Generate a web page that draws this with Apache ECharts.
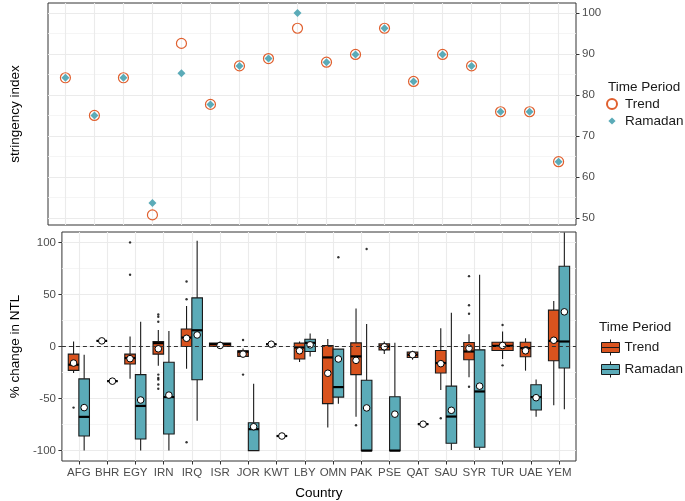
<!DOCTYPE html>
<html><head><meta charset="utf-8">
<script src="https://cdn.jsdelivr.net/npm/echarts@6/dist/echarts.min.js"></script>
<style>html,body{margin:0;padding:0;background:#fff}#c{width:685px;height:501px}</style>
</head><body><div id="c"></div>
<script>
// ---------- DATA ----------
const countries = ['AFG','BHR','EGY','IRN','IRQ','ISR','JOR','KWT','LBY','OMN','PAK','PSE','QAT','SAU','SYR','TUR','UAE','YEM'];

// Top panel: stringency index
const stringencyTrend   = [84.2, 75.0, 84.2, 50.7, 92.6, 77.7, 87.1, 88.9, 96.3, 88.0, 89.9, 96.3, 83.3, 89.9, 87.1, 75.9, 75.9, 63.7];
const stringencyRamadan = [84.2, 75.0, 84.2, 53.6, 85.3, 77.7, 87.1, 88.9, 100.0, 88.0, 89.9, 96.3, 83.3, 89.9, 87.1, 75.9, 75.9, 63.7];
const topTicks = [50, 60, 70, 80, 90, 100];
const topMinorTicks = [55, 65, 75, 85, 95];

// Bottom panel: % change in NTL, box stats [lowWhisker, q1, median, q3, highWhisker]
const ntlTrendBox = [
  [-25.4, -22.9, -17.5, -7.3, 4.8],
  [5.4, 5.4, 5.4, 5.4, 5.4],
  [-31.1, -16.8, -11.1, -7.3, 9.5],
  [-18.4, -7.3, 3.2, 4.8, 15.9],
  [-21.3, 0.0, 8.6, 16.8, 39.0],
  [-2.2, 0.0, 2.2, 3.2, 4.8],
  [-10.0, -9.5, -5.0, -4.1, -2.0],
  [2.2, 2.2, 2.2, 2.2, 2.2],
  [-14.9, -12.0, -1.0, 3.2, 4.8],
  [-77.8, -54.9, -10.5, 1.0, 7.3],
  [-67.6, -27.0, -9.5, 3.5, 36.5],
  [-7.3, -3.2, 0.0, 2.5, 4.8],
  [-12.7, -10.5, -7.9, -5.4, -4.1],
  [-41.9, -25.4, -15.9, -3.8, 17.5],
  [-29.5, -12.7, -4.8, 3.8, 11.7],
  [-12.0, -3.8, 0.6, 4.1, 14.3],
  [-23.2, -9.8, -1.6, 4.1, 7.9],
  [-56.5, -13.7, 5.4, 34.9, 43.8]
];
const ntlTrendMean = [-15.9, 5.4, -11.7, -2.2, 7.9, 1.0, -7.3, 2.2, -4.1, -25.7, -13.3, -0.3, -7.9, -16.5, -1.6, 1.0, -4.1, 6.0];
const ntlTrendOutliers = [
  ['AFG', -58.7], ['EGY', 68.9], ['EGY', 100.0],
  ['IRN', 30.8], ['IRN', 28.6], ['IRN', 23.8], ['IRN', -27.0], ['IRN', -30.2], ['IRN', -31.7], ['IRN', -36.5], ['IRN', -40.6],
  ['IRQ', 62.5], ['IRQ', 45.4], ['IRQ', -92.0],
  ['JOR', 6.3], ['JOR', -27.0], ['PAK', -75.6], ['SAU', -68.9],
  ['SYR', 67.6], ['SYR', 39.7], ['SYR', 31.4], ['SYR', -38.7],
  ['TUR', 20.6], ['TUR', -18.1]
];

const ntlRamadanBox = [
  [-100.0, -86.0, -67.6, -31.1, -7.9],
  [-33.3, -33.3, -33.3, -33.3, -33.3],
  [-100.0, -88.9, -57.1, -27.0, 23.8],
  [-100.0, -84.1, -48.6, -15.2, 14.9],
  [-71.4, -32.0, 15.6, 46.7, 101.6],
  null,
  [-100.0, -100.0, -79.4, -73.3, -35.9],
  [-86.0, -86.0, -86.0, -86.0, -86.0],
  [-9.5, -4.8, 3.5, 7.0, 12.4],
  [-54.9, -48.6, -39.0, -2.5, -2.5],
  [-100.0, -100.0, -100.0, -32.4, 21.6],
  [-100.0, -100.0, -100.0, -48.3, 3.5],
  [-74.6, -74.6, -74.6, -74.6, -74.6],
  [-99.4, -93.0, -67.3, -38.1, 32.4],
  [-99.4, -96.8, -43.2, -3.2, 68.9],
  null,
  [-67.6, -61.0, -48.6, -36.8, -31.7],
  [-60.3, -20.6, 4.8, 77.1, 109.5]
];
const ntlRamadanMean = [-58.7, -33.3, -51.4, -46.7, 11.1, null, -77.1, -86.0, 1.6, -12.0, -59.0, -65.0, -74.6, -61.3, -38.1, null, -49.2, 33.3];
const ntlRamadanOutliers = [['OMN', 85.7], ['PAK', 93.7]];
const bottomTicks = [-100, -50, 0, 50, 100];
const bottomMinorTicks = [-75, -25, 25, 75];

// ---------- BUILD ----------
const TREND = '#D9531E', RAMADAN = '#5BABB8';
const idx = countries.map((c, i) => i);
const hasBoth = i => ntlTrendBox[i] && ntlRamadanBox[i];
const slotOf = (i, g) => hasBoth(i) ? (g === 'T' ? -1 : 1) : 0;

function boxData(boxes, means, g) {
  const out = [];
  boxes.forEach((b, i) => { if (b) out.push([i, b[0], b[1], b[2], b[3], b[4], means[i], slotOf(i, g)]); });
  return out;
}
function outlierData(list, g) {
  return list.map(([c, v]) => { const i = countries.indexOf(c); return [i + slotOf(i, g) * 0.1875, v]; });
}

function renderBox(params, api) {
  const i = api.value(0), slot = api.value(7);
  const cx = i + slot * 0.1875;
  const hw = slot === 0 ? 0.375 : 0.1875;
  const xl = api.coord([cx - hw, 0])[0], xr = api.coord([cx + hw, 0])[0], xc = api.coord([cx, 0])[0];
  const y = k => api.coord([cx, api.value(k)])[1];
  const yLow = y(1), yQ1 = y(2), yMed = y(3), yQ3 = y(4), yHigh = y(5), yMean = y(6);
  const stroke = '#1A1A1A';
  const color = api.visual('color');
  return { type: 'group', children: [
    { type: 'line', shape: { x1: xc, y1: yHigh, x2: xc, y2: yQ3 }, style: { stroke, lineWidth: 1.1 } },
    { type: 'line', shape: { x1: xc, y1: yQ1, x2: xc, y2: yLow }, style: { stroke, lineWidth: 1.1 } },
    { type: 'rect', shape: { x: xl, y: yQ3, width: xr - xl, height: yQ1 - yQ3 }, style: { fill: color, stroke, lineWidth: 1.1 } },
    { type: 'line', shape: { x1: xl, y1: yMed, x2: xr, y2: yMed }, style: { stroke: '#000', lineWidth: 2.2 } },
    { type: 'circle', shape: { cx: xc, cy: yMean, r: 3.3 }, style: { fill: '#fff', stroke: '#000', lineWidth: 1 } }
  ]};
}

const FONT = '"Liberation Sans", Arial, sans-serif';
const gridLine = { show: true, lineStyle: { color: '#EBEBEB', width: 1.1 } };
const minorLine = { show: true, lineStyle: { color: '#F3F3F3', width: 0.8 } };
const tickStyle = { show: true, length: 3.5, lineStyle: { color: '#333', width: 1 } };
const noLine = { show: false, onZero: false };
const boxIcon = 'path://M0,3 L18,3 L18,13 L0,13 Z M0,8 L18,8 M9,0 L9,3 M9,13 L9,16';
const diamondIcon = 'path://M0,0 M5,1.4 L8.6,5 L5,8.6 L1.4,5 Z M10,10';

const option = {
  animation: false,
  backgroundColor: '#fff',
  textStyle: { fontFamily: FONT },
  title: [
    { text: 'Time Period', left: 608, top: 80, padding: 0, textStyle: { fontSize: 13.5, fontWeight: 'normal', color: '#1A1A1A', fontFamily: FONT } },
    { text: 'Time Period', left: 599, top: 320, padding: 0, textStyle: { fontSize: 13.5, fontWeight: 'normal', color: '#1A1A1A', fontFamily: FONT } }
  ],
  legend: [
    { data: [{ name: 'Trend', icon: 'circle' }, { name: 'Ramadan', icon: diamondIcon }], orient: 'vertical', left: 606, top: 97, padding: 0,
      itemWidth: 16, itemHeight: 10, itemGap: 3, selectedMode: false,
      textStyle: { fontSize: 13.5, color: '#1A1A1A', fontFamily: FONT } },
    { data: [{ name: 'Trend NTL', icon: boxIcon }, { name: 'Ramadan NTL', icon: boxIcon }],
      formatter: n => n.replace(' NTL', ''), orient: 'vertical', left: 601, top: 339, padding: 0,
      itemWidth: 18, itemHeight: 16, itemGap: 5, selectedMode: false,
      itemStyle: { borderColor: '#1A1A1A', borderWidth: 1 },
      textStyle: { fontSize: 13.5, color: '#1A1A1A', fontFamily: FONT } }
  ],
  grid: [
    { left: 44, right: 109, top: 3, height: 222, show: true, borderColor: '#333', borderWidth: 1, backgroundColor: '#fff' },
    { left: 44, right: 109, top: 232, height: 229, show: true, borderColor: '#333', borderWidth: 1, backgroundColor: '#fff' }
  ],
  xAxis: [
    { gridIndex: 0, type: 'value', min: -0.6, max: 17.6, axisLine: noLine,
      axisTick: { show: false, customValues: idx }, axisLabel: { show: false, customValues: idx }, splitLine: gridLine },
    { gridIndex: 1, type: 'value', min: -0.6, max: 17.6, axisLine: noLine,
      axisTick: Object.assign({ customValues: idx }, tickStyle),
      axisLabel: { customValues: idx, formatter: v => countries[Math.round(v)], color: '#4D4D4D', fontSize: 11.5, margin: 6, fontFamily: FONT },
      splitLine: gridLine,
      name: 'Country', nameLocation: 'middle', nameGap: 25, nameTextStyle: { color: '#000', fontSize: 13.5, fontFamily: FONT } }
  ],
  yAxis: [
    { gridIndex: 0, type: 'value', position: 'right', min: 48.235, max: 102.465, axisLine: noLine,
      axisTick: Object.assign({ customValues: topTicks }, tickStyle),
      axisLabel: { customValues: topTicks, color: '#4D4D4D', fontSize: 11.5, margin: 6, fontFamily: FONT },
      splitLine: gridLine },
    { gridIndex: 0, type: 'value', position: 'left', min: 48.235, max: 102.465, axisLine: noLine,
      axisTick: { show: false, customValues: topMinorTicks }, axisLabel: { show: false, customValues: topMinorTicks },
      splitLine: minorLine,
      name: 'stringency index', nameLocation: 'middle', nameGap: 26, nameTextStyle: { color: '#000', fontSize: 13.5, fontFamily: FONT } },
    { gridIndex: 1, type: 'value', position: 'left', min: -110, max: 110, axisLine: noLine,
      axisTick: Object.assign({ customValues: bottomTicks }, tickStyle),
      axisLabel: { customValues: bottomTicks, color: '#4D4D4D', fontSize: 11.5, margin: 6, fontFamily: FONT },
      splitLine: gridLine,
      name: '% change in NTL', nameLocation: 'middle', nameGap: 26, nameTextStyle: { color: '#000', fontSize: 13.5, fontFamily: FONT } },
    { gridIndex: 1, type: 'value', position: 'right', min: -110, max: 110, axisLine: noLine,
      axisTick: { show: false, customValues: bottomMinorTicks }, axisLabel: { show: false, customValues: bottomMinorTicks },
      splitLine: minorLine }
  ],
  series: [
    { name: 'Trend', type: 'scatter', xAxisIndex: 0, yAxisIndex: 0, z: 3,
      data: stringencyTrend.map((v, i) => [i, v]), symbol: 'circle', symbolSize: 10,
      itemStyle: { color: 'rgba(255,255,255,0)', borderColor: '#E0602F', borderWidth: 1.2, opacity: 1 } },
    { name: 'Ramadan', type: 'scatter', xAxisIndex: 0, yAxisIndex: 0, z: 4,
      data: stringencyRamadan.map((v, i) => [i, v]), symbol: 'diamond', symbolSize: 8,
      itemStyle: { color: '#5BABB8', opacity: 1 } },
    { name: 'zero', type: 'line', xAxisIndex: 1, yAxisIndex: 2, data: [], z: 2,
      markLine: { silent: true, symbol: 'none', label: { show: false },
        lineStyle: { type: [4, 3], color: '#333', width: 1 }, data: [{ yAxis: 0 }] } },
    { name: 'Trend NTL', type: 'custom', xAxisIndex: 1, yAxisIndex: 2, z: 3, clip: true,
      itemStyle: { color: TREND }, encode: { x: 0, y: [1, 2, 3, 4, 5] },
      data: boxData(ntlTrendBox, ntlTrendMean, 'T'), renderItem: renderBox },
    { name: 'Ramadan NTL', type: 'custom', xAxisIndex: 1, yAxisIndex: 2, z: 3, clip: true,
      itemStyle: { color: RAMADAN }, encode: { x: 0, y: [1, 2, 3, 4, 5] },
      data: boxData(ntlRamadanBox, ntlRamadanMean, 'R'), renderItem: renderBox },
    { name: 'out T', type: 'scatter', xAxisIndex: 1, yAxisIndex: 2, z: 4, symbolSize: 2.4,
      itemStyle: { color: '#000' }, data: outlierData(ntlTrendOutliers, 'T') },
    { name: 'out R', type: 'scatter', xAxisIndex: 1, yAxisIndex: 2, z: 4, symbolSize: 2.4,
      itemStyle: { color: '#000' }, data: outlierData(ntlRamadanOutliers, 'R') }
  ]
};
const chart = echarts.init(document.getElementById('c'), null, { renderer: 'canvas' });
chart.setOption(option);
</script></body></html>
